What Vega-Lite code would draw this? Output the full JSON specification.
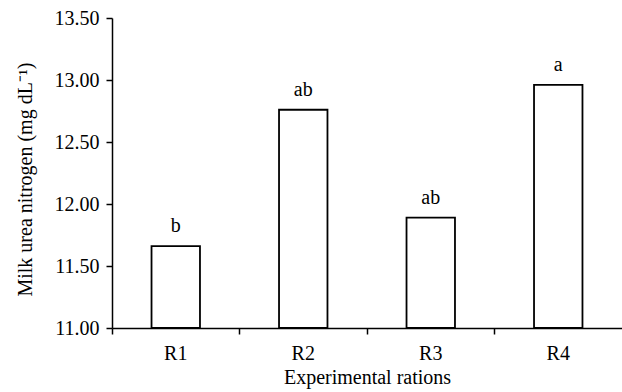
{
  "$schema": "https://vega.github.io/schema/vega-lite/v6.json",
  "autosize": {"type": "none"},
  "padding": {"left": 112, "top": 18, "right": 0, "bottom": 64},
  "width": 510,
  "height": 310,
  "background": "white",
  "config": {
    "view": {"stroke": null},
    "font": "Liberation Serif",
    "axis": {
      "labelFont": "Liberation Serif",
      "titleFont": "Liberation Serif",
      "labelColor": "black",
      "titleColor": "black",
      "domainColor": "black",
      "tickColor": "black",
      "domainWidth": 1.5,
      "tickWidth": 1.5,
      "labelFontSize": 20,
      "titleFontSize": 20,
      "titleFontWeight": "normal",
      "grid": false
    }
  },
  "data": {
    "values": [
      {"ration": "R1", "mun": 11.66, "sig": "b"},
      {"ration": "R2", "mun": 12.76, "sig": "ab"},
      {"ration": "R3", "mun": 11.89, "sig": "ab"},
      {"ration": "R4", "mun": 12.96, "sig": "a"}
    ]
  },
  "encoding": {
    "x": {
      "field": "ration",
      "type": "nominal",
      "scale": {"paddingInner": 0, "paddingOuter": 0},
      "axis": {
        "title": "Experimental rations",
        "labelAngle": 0,
        "bandPosition": 0,
        "tickSize": 6,
        "labelPadding": 9,
        "titlePadding": 4
      }
    },
    "y": {
      "field": "mun",
      "type": "quantitative",
      "scale": {"domain": [11, 13.5], "zero": false, "nice": false},
      "axis": {
        "title": "Milk urea nitrogen (mg dL\u207b\u00b9)",
        "values": [11, 11.5, 12, 12.5, 13, 13.5],
        "format": ".2f",
        "tickSize": 6,
        "labelPadding": 7,
        "titlePadding": 19,
        "titleY": 161
      }
    }
  },
  "layer": [
    {
      "mark": {"type": "bar", "fill": "white", "stroke": "black", "strokeWidth": 1.8, "width": {"band": 0.38}},
      "encoding": {"y2": {"datum": 11}}
    },
    {
      "mark": {"type": "text", "baseline": "alphabetic", "dy": -14, "fontSize": 20, "font": "Liberation Serif", "color": "black"},
      "encoding": {"text": {"field": "sig"}}
    }
  ]
}
